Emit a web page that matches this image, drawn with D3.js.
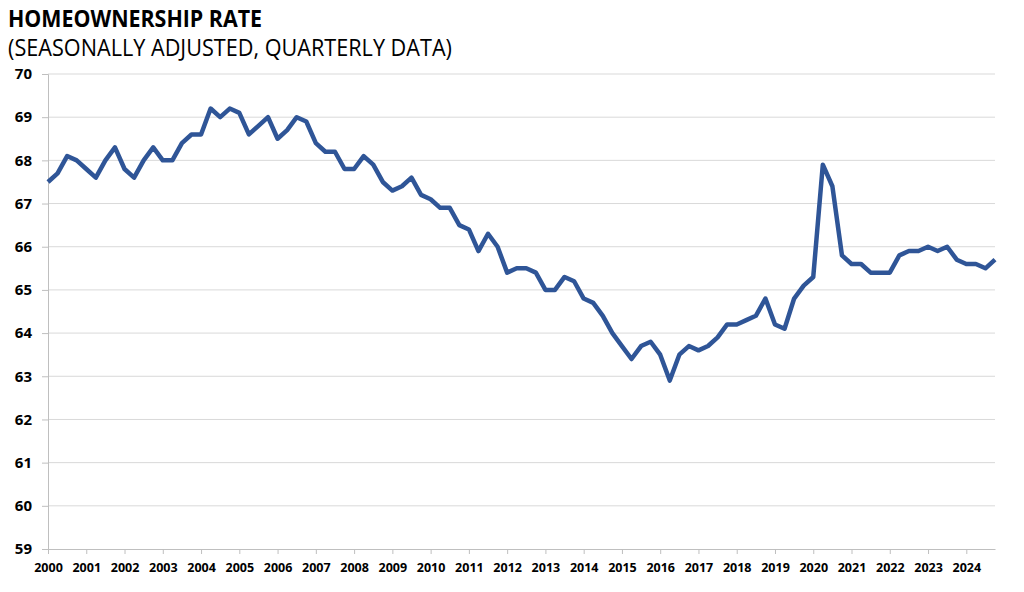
<!DOCTYPE html>
<html>
<head>
<meta charset="utf-8">
<script src="https://cdn.jsdelivr.net/npm/d3@7"></script>
<style>
  html, body { margin: 0; padding: 0; background: #fff; }
  svg { display: block; font-family: "Open Sans", "Liberation Sans", sans-serif; }
</style>
</head>
<body>
<div id="chart"></div>
<script>
// Year labels on the x axis (one tick every 4 quarters)
const years = d3.range(2000, 2025);

// Quarterly homeownership rate, 2000Q1 .. 2024Q4
const rate = [
  67.5, 67.7, 68.1, 68.0,   // 2000
  67.8, 67.6, 68.0, 68.3,   // 2001
  67.8, 67.6, 68.0, 68.3,   // 2002
  68.0, 68.0, 68.4, 68.6,   // 2003
  68.6, 69.2, 69.0, 69.2,   // 2004
  69.1, 68.6, 68.8, 69.0,   // 2005
  68.5, 68.7, 69.0, 68.9,   // 2006
  68.4, 68.2, 68.2, 67.8,   // 2007
  67.8, 68.1, 67.9, 67.5,   // 2008
  67.3, 67.4, 67.6, 67.2,   // 2009
  67.1, 66.9, 66.9, 66.5,   // 2010
  66.4, 65.9, 66.3, 66.0,   // 2011
  65.4, 65.5, 65.5, 65.4,   // 2012
  65.0, 65.0, 65.3, 65.2,   // 2013
  64.8, 64.7, 64.4, 64.0,   // 2014
  63.7, 63.4, 63.7, 63.8,   // 2015
  63.5, 62.9, 63.5, 63.7,   // 2016
  63.6, 63.7, 63.9, 64.2,   // 2017
  64.2, 64.3, 64.4, 64.8,   // 2018
  64.2, 64.1, 64.8, 65.1,   // 2019
  65.3, 67.9, 67.4, 65.8,   // 2020
  65.6, 65.6, 65.4, 65.4,   // 2021
  65.4, 65.8, 65.9, 65.9,   // 2022
  66.0, 65.9, 66.0, 65.7,   // 2023
  65.6, 65.6, 65.5, 65.7    // 2024
];

const yTicks = d3.range(59, 71);

const W = 1024, H = 592;
const margin = { top: 74, right: 29, bottom: 43, left: 48 };

const svg = d3.select('#chart')
  .append('svg')
  .attr('width', W)
  .attr('height', H);

// Titles
svg.append('text')
  .attr('x', 8)
  .attr('y', 27)
  .attr('font-size', 23)
  .attr('font-weight', 'bold')
  .attr('fill', '#000')
  .attr('textLength', 254)
  .attr('lengthAdjust', 'spacingAndGlyphs')
  .text('HOMEOWNERSHIP RATE');

svg.append('text')
  .attr('x', 8)
  .attr('y', 56)
  .attr('font-size', 23)
  .attr('fill', '#000')
  .attr('textLength', 444)
  .attr('lengthAdjust', 'spacingAndGlyphs')
  .text('(SEASONALLY ADJUSTED, QUARTERLY DATA)');

// Scales
const x = d3.scaleLinear()
  .domain([0, rate.length - 1])
  .range([margin.left, W - margin.right]);

const y = d3.scaleLinear()
  .domain([59, 70])
  .range([H - margin.bottom, margin.top]);

// Gridlines
svg.append('g')
  .selectAll('line')
  .data(yTicks.filter(d => d > 59))
  .join('line')
  .attr('x1', margin.left)
  .attr('x2', W - margin.right)
  .attr('y1', d => y(d))
  .attr('y2', d => y(d))
  .attr('stroke', '#d9d9d9')
  .attr('stroke-width', 1);

// Y axis
const yAxis = svg.append('g')
  .attr('transform', `translate(${margin.left},0)`)
  .call(d3.axisLeft(y).tickValues(yTicks).tickSize(6).tickPadding(10).tickFormat(d3.format('d')));
yAxis.select('.domain').attr('stroke', '#bfbfbf');
yAxis.selectAll('.tick line').attr('stroke', '#bfbfbf');
yAxis.selectAll('text')
  .attr('font-size', 15)
  .attr('font-weight', 'bold')
  .attr('fill', '#000')
  .attr('font-family', '"Open Sans", sans-serif');

// X axis
const xAxis = svg.append('g')
  .attr('transform', `translate(0,${H - margin.bottom})`)
  .call(d3.axisBottom(x)
    .tickValues(years.map((yr, i) => i * 4))
    .tickSize(5)
    .tickSizeOuter(0)
    .tickPadding(9)
    .tickFormat((d, i) => years[i]));
xAxis.select('.domain').attr('stroke', '#bfbfbf');
xAxis.selectAll('.tick line').attr('stroke', '#bfbfbf');
xAxis.selectAll('text')
  .attr('font-size', 12.5)
  .attr('font-weight', 'bold')
  .attr('fill', '#000')
  .attr('font-family', '"Open Sans", sans-serif');

// Line
const line = d3.line()
  .x((d, i) => x(i))
  .y(d => y(d));

svg.append('path')
  .datum(rate)
  .attr('fill', 'none')
  .attr('stroke', '#2f5597')
  .attr('stroke-width', 4.5)
  .attr('stroke-linejoin', 'round')
  .attr('d', line);
</script>
</body>
</html>
